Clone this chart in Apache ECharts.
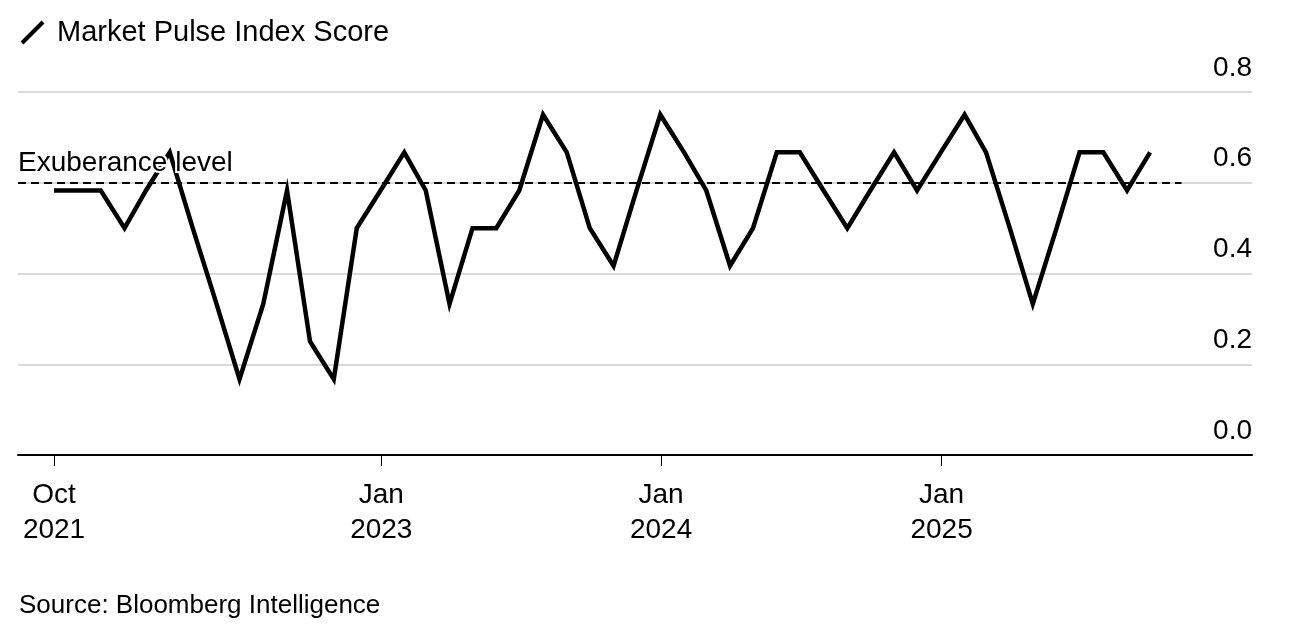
<!DOCTYPE html>
<html>
<head>
<meta charset="utf-8">
<script src="https://cdn.jsdelivr.net/npm/echarts@6/dist/echarts.min.js"></script>
<style>
  html, body { margin: 0; padding: 0; background: #fff; }
  #chart { width: 1292px; height: 632px; }
</style>
</head>
<body>
<div id="chart"></div>
<script>
// ---- Data (month-end survey dates) ----
const dates = [
  '2021-10-31','2021-11-30','2021-12-31','2022-01-31','2022-02-28','2022-03-31',
  '2022-04-30','2022-05-31','2022-06-30','2022-07-31','2022-08-31','2022-09-30',
  '2022-10-31','2022-11-30','2022-12-31','2023-01-31','2023-02-28','2023-03-31',
  '2023-04-30','2023-05-31','2023-06-30','2023-07-31','2023-08-31','2023-09-30',
  '2023-10-31','2023-11-30','2023-12-31','2024-01-31','2024-02-29','2024-03-31',
  '2024-04-30','2024-05-31','2024-06-30','2024-07-31','2024-08-31','2024-09-30',
  '2024-10-31','2024-11-30','2024-12-31','2025-01-31','2025-02-28','2025-03-31',
  '2025-04-30','2025-05-31','2025-06-30','2025-07-31','2025-08-31','2025-09-30'
];
const scores = [
  0.583, 0.583, 0.583, 0.5,   0.583, 0.667,
  0.5,   0.333, 0.167, 0.333, 0.583, 0.25,
  0.167, 0.5,   0.583, 0.667, 0.583, 0.333,
  0.5,   0.5,   0.583, 0.75,  0.667, 0.5,
  0.417, 0.583, 0.75,  0.667, 0.583, 0.417,
  0.5,   0.667, 0.667, 0.583, 0.5,   0.583,
  0.667, 0.583, 0.667, 0.75,  0.667, 0.5,
  0.333, 0.5,   0.667, 0.667, 0.583, 0.667
];
const exuberanceLevel = 0.6;
const xTickDates = ['2021-10-31', '2023-01-01', '2024-01-01', '2025-01-01'];
const yTicks = [0, 0.2, 0.4, 0.6, 0.8];
const monthNames = ['Jan','Feb','Mar','Apr','May','Jun','Jul','Aug','Sep','Oct','Nov','Dec'];
const axisStart = '2021-09-14';
const axisEnd = '2026-02-10';
const refLineEnd = '2025-11-10';

function ts(s) {
  const p = s.split('-').map(Number);
  return new Date(p[0], p[1] - 1, p[2]).getTime();
}

const seriesData = dates.map((d, i) => [ts(d), scores[i]]);
const tickValues = xTickDates.map(ts);

const chart = echarts.init(document.getElementById('chart'), null, { renderer: 'canvas' });
const FONT = 'Liberation Sans';

chart.setOption({
  animation: false,
  backgroundColor: '#fff',
  textStyle: { fontFamily: FONT },
  title: [
    {
      text: 'Market Pulse Index Score',
      left: 57, top: 18, padding: 0,
      textStyle: { fontFamily: FONT, fontSize: 29, fontWeight: 'normal', color: '#000' }
    },
    {
      text: 'Source: Bloomberg Intelligence',
      left: 19, top: 593, padding: 0,
      textStyle: { fontFamily: FONT, fontSize: 26, fontWeight: 'normal', color: '#000' }
    }
  ],
  graphic: [
    {
      type: 'line',
      shape: { x1: 22, y1: 43, x2: 43, y2: 22 },
      style: { stroke: '#000', lineWidth: 4 }
    }
  ],
  grid: { left: 18, right: 40, top: 92, bottom: 177, containLabel: false },
  xAxis: {
    type: 'value',
    min: ts(axisStart),
    max: ts(axisEnd),
    axisLine: { show: true, onZero: false, lineStyle: { color: '#000', width: 2 } },
    axisTick: {
      show: true, customValues: tickValues, length: 11, inside: false,
      lineStyle: { color: '#000', width: 1 }
    },
    axisLabel: {
      show: true, customValues: tickValues,
      formatter: function (v) {
        const d = new Date(v);
        return monthNames[d.getMonth()] + '\n' + d.getFullYear();
      },
      fontFamily: FONT, fontSize: 28, lineHeight: 35, color: '#000', margin: 23,
      hideOverlap: false, showMinLabel: true, showMaxLabel: true
    },
    splitLine: { show: false }
  },
  yAxis: {
    type: 'value',
    position: 'right',
    min: yTicks[0], max: yTicks[yTicks.length - 1], interval: 0.2,
    axisLine: { show: false },
    axisTick: { show: false },
    axisLabel: {
      inside: true, margin: 0,
      formatter: v => v.toFixed(1),
      fontFamily: FONT, fontSize: 28, color: '#000',
      verticalAlign: 'bottom', padding: [0, 0, 10, 0]
    },
    splitLine: { show: true, lineStyle: { color: '#d9d9d9', width: 2 } }
  },
  series: [
    {
      name: 'Market Pulse Index Score',
      type: 'line',
      data: seriesData,
      showSymbol: false,
      symbol: 'none',
      lineStyle: { color: '#000', width: 4.5, join: 'miter' },
      z: 2
    },
    {
      name: 'Exuberance level',
      type: 'line',
      data: [],
      z: 3,
      markLine: {
        silent: true,
        symbol: ['none', 'none'],
        lineStyle: { color: '#000', width: 2, type: [8, 5] },
        label: {
          show: true,
          position: 'insideStartTop',
          formatter: 'Exuberance level',
          fontFamily: FONT, fontSize: 28, color: '#000',
          textBorderColor: '#fff', textBorderWidth: 4,
          distance: [0, 5]
        },
        data: [[
          { coord: [ts(axisStart), exuberanceLevel] },
          { coord: [ts(refLineEnd), exuberanceLevel] }
        ]]
      }
    }
  ]
});
</script>
</body>
</html>
